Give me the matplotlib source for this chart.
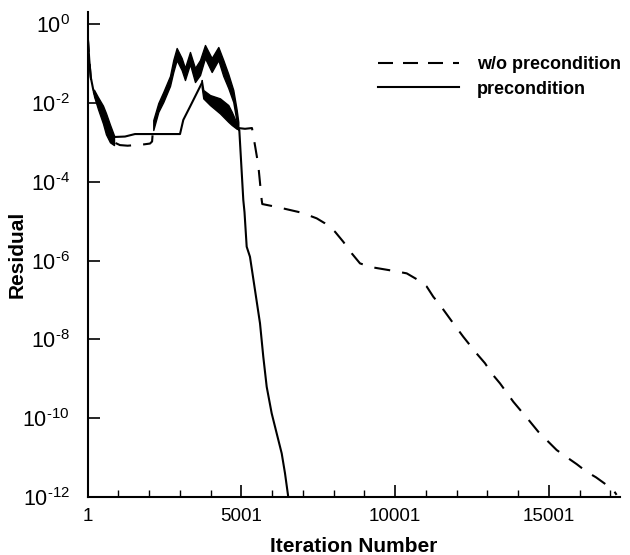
import numpy as np
import matplotlib
matplotlib.use('Agg')
import matplotlib.pyplot as plt
from matplotlib.ticker import FixedLocator, FuncFormatter, NullLocator
from matplotlib.lines import Line2D

plt.rcParams['font.family'] = ['Liberation Sans', 'DejaVu Sans']
plt.rcParams['mathtext.fontset'] = 'custom'
plt.rcParams['mathtext.rm'] = 'Liberation Sans'
plt.rcParams['mathtext.it'] = 'Liberation Sans:italic'
plt.rcParams['mathtext.bf'] = 'Liberation Sans:bold'

# ---------------- data ----------------
# w/o precondition (dashed) - smooth parts
wo_iter_a = [1, 53, 107, 205, 335, 498, 661, 856, 1050, 1300, 1540, 1800, 2027, 2095, 2134]
wo_res_a = [0.5, 0.12, 0.04, 0.018, 9e-3, 4.5e-3, 2.2e-3, 1.0e-3, 8.5e-4, 8.2e-4,
            8.5e-4, 8.8e-4, 9.3e-4, 1.05e-3, 2.7e-3]
wo_iter_b = [4898, 5116, 5343, 5450, 5548, 5659, 5678, 6199, 6960, 7448, 7718, 8043,
             8313, 8586, 8856, 9237, 9939, 10375, 10752, 11025, 11240, 11457, 11890,
             12215, 12628, 12920, 13138, 13409, 13841, 14114, 14361, 14654, 15252,
             15630, 15903, 16228, 16530, 16878, 17116, 17200]
wo_res_b = [2.3e-3, 2.2e-3, 2.3e-3, 7.6e-4, 2.65e-4, 3.44e-5, 2.72e-5, 2.25e-5, 1.64e-5,
            1.18e-5, 8.8e-6, 5.4e-6, 3.0e-6, 1.53e-6, 8.5e-7, 6.8e-7, 5.5e-7, 4.75e-7,
            3.2e-7, 2.2e-7, 1.21e-7, 7.5e-8, 2.56e-8, 1.17e-8, 4.6e-9, 2.5e-9, 1.38e-9,
            7.7e-10, 2.64e-10, 1.47e-10, 8.7e-11, 4.57e-11, 1.57e-11, 9.7e-12, 6.9e-12,
            4.4e-12, 3.2e-12, 2.04e-12, 1.44e-12, 1.15e-12]
# w/o precondition - oscillating hump (envelope)
wo_band_iter = [2134, 2297, 2459, 2677, 2784, 2894, 3057, 3164, 3327, 3490, 3653, 3815,
                4033, 4248, 4410, 4573, 4735, 4846, 4898]
wo_band_hi = [3.67e-3, 9.9e-3, 0.0189, 0.048, 0.122, 0.246, 0.137, 0.0766, 0.195, 0.0766,
              0.122, 0.293, 0.137, 0.261, 0.122, 0.054, 0.0212, 6.6e-3, 3.27e-3]
wo_band_lo = [2.05e-3, 5.9e-3, 0.0105, 0.0268, 0.0607, 0.122, 0.068, 0.038, 0.0968,
              0.0338, 0.0509, 0.137, 0.0607, 0.122, 0.048, 0.0238, 0.0105, 3.27e-3, 2.05e-3]

# precondition (solid) - smooth parts
pc_iter_a = [1, 53, 98, 183, 294, 456, 564, 726, 824, 1214, 1539, 2027, 3003, 3110,
             3328, 3546, 3708]
pc_res_a = [0.5, 0.122, 0.046, 0.0212, 0.0118, 6.6e-3, 3.7e-3, 1.73e-3, 1.36e-3, 1.4e-3,
            1.62e-3, 1.62e-3, 1.62e-3, 3.7e-3, 8.0e-3, 0.0175, 0.0313]
pc_iter_b = [4857, 4931, 5061, 5100, 5171, 5278, 5441, 5604, 5711, 5822, 5984, 6147,
             6310, 6417, 6524]
pc_res_b = [2.5e-3, 2.05e-3, 3.44e-5, 1.7e-5, 2.25e-6, 1.25e-6, 1.8e-7, 2.57e-8,
            3.65e-9, 6.3e-10, 1.34e-10, 4.15e-11, 1.29e-11, 4.04e-12, 1.0e-12]
# precondition - oscillating band (envelope)
pc_band_iter = [3708, 3760, 3978, 4303, 4573, 4684, 4857]
pc_band_hi = [0.038, 0.0212, 0.0158, 0.0130, 8.8e-3, 5.97e-3, 2.91e-3]
pc_band_lo = [0.0252, 0.0130, 8.8e-3, 5.4e-3, 3.3e-3, 2.75e-3, 2.17e-3]

# early oscillation shared by both runs (envelope)
early_band_iter = [205, 335, 498, 595, 726, 856]
early_band_hi = [0.0215, 0.0140, 8.5e-3, 5.5e-3, 2.8e-3, 1.5e-3]
early_band_lo = [0.0150, 7.0e-3, 3.0e-3, 1.6e-3, 1.0e-3, 8.5e-4]

x_major = [1, 5001, 10001, 15001]
x_minor = [1001, 2001, 3001, 4001, 6001, 7001, 8001, 9001, 11001, 12001, 13001,
           14001, 16001, 17001]
y_exp = [0, -2, -4, -6, -8, -10, -12]
labels = ['w/o precondition', 'precondition']

# ---------------- plot ----------------
fig = plt.figure(figsize=(6.3, 5.55), dpi=100)
ax = fig.add_axes([0.1392, 0.1041, 0.8449, 0.8748])

lw = 1.5
dash = (0, (7.7, 5.8))

ax.plot(wo_iter_a, wo_res_a, color='black', lw=lw, linestyle=dash)
ax.plot(wo_iter_b, wo_res_b, color='black', lw=lw, linestyle=dash)
ax.fill_between(wo_band_iter, wo_band_lo, wo_band_hi, color='black', lw=1.0)

ax.plot(pc_iter_a, pc_res_a, color='black', lw=lw, linestyle='-')
ax.plot(pc_iter_b, pc_res_b, color='black', lw=lw, linestyle='-')
ax.fill_between(pc_band_iter, pc_band_lo, pc_band_hi, color='black', lw=1.0)

ax.fill_between(early_band_iter, early_band_lo, early_band_hi, color='black', lw=1.0)

ax.set_yscale('log')
ax.set_xlim(1, 17310)
ax.set_ylim(1e-12, 2.05)

ax.xaxis.set_major_locator(FixedLocator(x_major))
ax.xaxis.set_minor_locator(FixedLocator(x_minor))
ax.xaxis.set_major_formatter(FuncFormatter(lambda v, p: f'{int(round(v))}'))
ax.yaxis.set_major_locator(FixedLocator([10.0 ** e for e in y_exp]))
ax.yaxis.set_minor_locator(NullLocator())


def ylab(v, p):
    e = int(round(np.log10(v)))
    if e < 0:
        return r'$10^{\text{-}%d}$' % (-e)
    return r'$10^{%d}$' % e


ax.yaxis.set_major_formatter(FuncFormatter(ylab))

for s in ['top', 'right']:
    ax.spines[s].set_visible(False)
for s in ['left', 'bottom']:
    ax.spines[s].set_linewidth(1.5)

ax.tick_params(axis='both', which='major', direction='in', length=8.5, width=1.2,
               color='black')
ax.tick_params(axis='x', which='major', pad=8, labelsize=13.5)
ax.tick_params(axis='y', which='major', pad=13, labelsize=15.5)
ax.tick_params(axis='x', which='minor', direction='in', length=5, width=1.0)

ax.set_xlabel('Iteration Number', fontsize=15, fontweight='bold')
ax.set_ylabel('Residual', fontsize=15, fontweight='bold')
ax.xaxis.set_label_coords(0.5, -0.082)
ax.yaxis.set_label_coords(-0.114, 0.5)

handles = [Line2D([], [], color='black', lw=lw, linestyle=(0, (7.2, 4.8))),
           Line2D([], [], color='black', lw=lw, linestyle='-')]
leg = ax.legend(handles, labels, loc='center left',
                bbox_to_anchor=(378 / 630, 1 - 77 / 555), bbox_transform=fig.transFigure,
                frameon=False, borderpad=0, borderaxespad=0, handlelength=4.5,
                handletextpad=1.0, labelspacing=0.4,
                prop={'size': 13, 'weight': 'bold'})

fig.savefig('out.png', dpi=100)
